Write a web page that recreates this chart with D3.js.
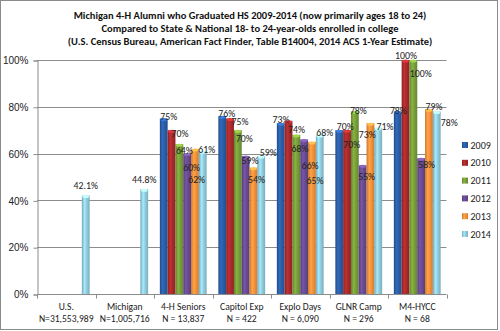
<!DOCTYPE html>
<html>
<head>
<meta charset="utf-8">
<script src="https://cdn.jsdelivr.net/npm/d3@7"></script>
<style>
	body { margin: 0; background: #fff; }
	svg { display: block; font-family: Carlito, Calibri, Lato, sans-serif; }
</style>
</head>
<body>
<div id="chart"></div>
<script>

// data
const categories = ["U.S.", "Michigan", "4-H Seniors", "Capitol Exp", "Explo Days", "GLNR Camp", "M4-HYCC"];
const sampleSizes = ["N=31,553,989", "N=1,005,716", "N = 13,837", "N = 422", "N = 6,090", "N = 296", "N = 68"];
const years = ["2009", "2010", "2011", "2012", "2013", "2014"];

const v2009 = [null, null, 75, 76, 73, 70, 78];
const v2010 = [null, null, 70, 75, 74, 70, 100];
const v2011 = [null, null, 64, 70, 68, 78, 100];
const v2012 = [null, null, 60, 59, 66, 55, 58];
const v2013 = [null, null, 62, 54, 65, 73, 79];
const v2014 = [42.1, 44.8, 61, 59, 68, 71, 78];

const yTicks = [0, 20, 40, 60, 80, 100];

const titleLines = [
	"Michigan 4-H Alumni who Graduated HS 2009-2014 (now primarily ages 18 to 24)",
	"Compared to State & National 18- to 24-year-olds enrolled in college",
	"(U.S. Census Bureau, American Fact Finder, Table B14004, 2014 ACS 1-Year Estimate)"
];

const series = [v2009, v2010, v2011, v2012, v2013, v2014];

// look
const colors = ["#2b5ea7", "#ab2a2c", "#79a03a", "#6a4b93", "#f7923b", "#92cfe0"];

// label placement (centre of text relative to bar top), the labels in the source were nudged by hand
const labelNudge = [
	[null, null, [5, -2], [4.5, -3], [0.3, -4], [6, -3.5], [0.6, -1]],
	[null, null, [8.5, 3], [10, 3], [8, 8.5], [4.7, 14], [0.5, -4]],
	[null, null, [5, 6.5], [6.5, 8], [3.7, 13.4], [3.5, -1], [7.4, 14]],
	[null, null, [4.5, 14], [4.3, 5], [6, 26], [4, 11.4], [5.5, 6.7]],
	[null, null, [1.7, 31], [3, 12.4], [3, 38.8], [-3.2, 11], [5, -3]],
	[[0, -9.5], [0, -9.5], [4, -1.3], [7, -3], [5, -2], [6.7, -1.2], [12.5, 11.2]]
];

const frame = { width: 500, height: 331 };
const plot = { left: 37, right: 446.5, top: 60, bottom: 294 };

const svg = d3.select("#chart").append("svg")
	.attr("width", frame.width)
	.attr("height", frame.height);

svg.append("rect")
	.attr("x", 0.5).attr("y", 0.5)
	.attr("width", 497).attr("height", 329)
	.attr("fill", "#fff")
	.attr("stroke", "#8a8a8a");

// gradients for the shiny column look
const defs = svg.append("defs");
colors.forEach((c, i) => {
	const g = defs.append("linearGradient").attr("id", "grad" + i)
		.attr("x1", "0%").attr("x2", "100%").attr("y1", "0%").attr("y2", "0%");
	const base = d3.color(c);
	g.append("stop").attr("offset", "0%").attr("stop-color", base.darker(0.6));
	g.append("stop").attr("offset", "35%").attr("stop-color", base.brighter(0.35));
	g.append("stop").attr("offset", "60%").attr("stop-color", base);
	g.append("stop").attr("offset", "100%").attr("stop-color", base.darker(0.5));
});

// title
svg.append("g").selectAll("text")
	.data(titleLines)
	.enter()
	.append("text")
	.attr("x", 250)
	.attr("y", (d, i) => 15 + i * 13.4)
	.attr("dy", "0.35em")
	.attr("text-anchor", "middle")
	.attr("font-size", 10.5)
	.attr("font-weight", "bold")
	.attr("fill", "#111")
	.text(d => d);

const x0 = d3.scaleBand()
	.domain(categories)
	.range([plot.left, plot.right])
	.paddingInner(0).paddingOuter(0);

const x1 = d3.scaleBand()
	.domain(years)
	.range([0, x0.bandwidth()])
	.paddingInner(0)
	.paddingOuter(0.75);

const y = d3.scaleLinear()
	.domain([0, 100])
	.range([plot.bottom, plot.top]);

// gridlines
svg.append("g").selectAll("line")
	.data(yTicks.slice(1))
	.enter()
	.append("line")
	.attr("x1", plot.left).attr("x2", plot.right)
	.attr("y1", d => Math.round(y(d)) + 0.5)
	.attr("y2", d => Math.round(y(d)) + 0.5)
	.attr("stroke", "#8c8c8c")
	.attr("stroke-width", 1);

// y axis
const yAxis = svg.append("g")
	.attr("transform", `translate(${plot.left + 0.5},0.5)`)
	.call(d3.axisLeft(y).tickValues(yTicks).tickSize(4).tickPadding(5).tickFormat(d => d + "%"));
yAxis.select(".domain").attr("stroke", "#8c8c8c");
yAxis.selectAll(".tick line").attr("stroke", "#8c8c8c");
yAxis.selectAll("text").attr("font-size", 10).attr("fill", "#222").style("font-family", "inherit");

// bars
const rows = [];
categories.forEach((cat, ci) => {
	series.forEach((s, si) => {
		if (s[ci] != null) rows.push({ cat: cat, ci: ci, si: si, value: s[ci] });
	});
});

const bars = svg.append("g");
bars.selectAll("rect")
	.data(rows)
	.enter()
	.append("rect")
	.attr("x", d => x0(d.cat) + x1(years[d.si]))
	.attr("y", d => y(d.value))
	.attr("width", x1.bandwidth())
	.attr("height", d => y(0) - y(d.value))
	.attr("fill", d => "url(#grad" + d.si + ")");

// little lighter cap on top of each column
bars.selectAll("ellipse")
	.data(rows)
	.enter()
	.append("ellipse")
	.attr("cx", d => x0(d.cat) + x1(years[d.si]) + x1.bandwidth() / 2)
	.attr("cy", d => y(d.value) + 1)
	.attr("rx", x1.bandwidth() / 2 - 0.5)
	.attr("ry", 1.5)
	.attr("fill", d => d3.color(colors[d.si]).brighter(0.8));

// x axis
const xAxis = svg.append("g")
	.attr("transform", `translate(0,${plot.bottom + 0.5})`);
xAxis.append("line")
	.attr("x1", plot.left).attr("x2", plot.right)
	.attr("stroke", "#8c8c8c");
xAxis.selectAll(".tick")
	.data(d3.range(categories.length + 1))
	.enter()
	.append("line")
	.attr("x1", i => Math.round(plot.left + i * x0.step()) + 0.5)
	.attr("x2", i => Math.round(plot.left + i * x0.step()) + 0.5)
	.attr("y1", 0).attr("y2", 4)
	.attr("stroke", "#8c8c8c");

const catLabels = svg.append("g").selectAll("text")
	.data(categories)
	.enter()
	.append("text")
	.attr("text-anchor", "middle")
	.attr("font-size", 9.6)
	.attr("fill", "#222");
catLabels.append("tspan")
	.attr("x", d => x0(d) + x0.bandwidth() / 2)
	.attr("y", 306.7)
	.attr("dy", "0.35em")
	.text(d => d);
catLabels.append("tspan")
	.attr("x", d => x0(d) + x0.bandwidth() / 2)
	.attr("y", 318.3)
	.attr("dy", "0.35em")
	.text((d, i) => sampleSizes[i]);

// value labels
svg.append("g").selectAll("text")
	.data(rows)
	.enter()
	.append("text")
	.attr("x", d => x0(d.cat) + x1(years[d.si]) + x1.bandwidth() / 2 + labelNudge[d.si][d.ci][0])
	.attr("y", d => y(d.value) + labelNudge[d.si][d.ci][1])
	.attr("dy", "0.35em")
	.attr("text-anchor", "middle")
	.attr("font-size", 9.8)
	.attr("fill", "#222")
	.text(d => (d.value % 1 ? d.value.toFixed(1) : d.value) + "%");

// legend
const legend = svg.append("g").selectAll("g")
	.data(years)
	.enter()
	.append("g")
	.attr("transform", (d, i) => `translate(462,${145 + i * 17.8})`);
legend.append("rect")
	.attr("x", 0).attr("y", -3)
	.attr("width", 6).attr("height", 6)
	.attr("fill", (d, i) => "url(#grad" + i + ")");
legend.append("text")
	.attr("x", 8.5)
	.attr("dy", "0.35em")
	.attr("font-size", 10)
	.attr("fill", "#222")
	.text(d => d);

</script>
</body>
</html>
